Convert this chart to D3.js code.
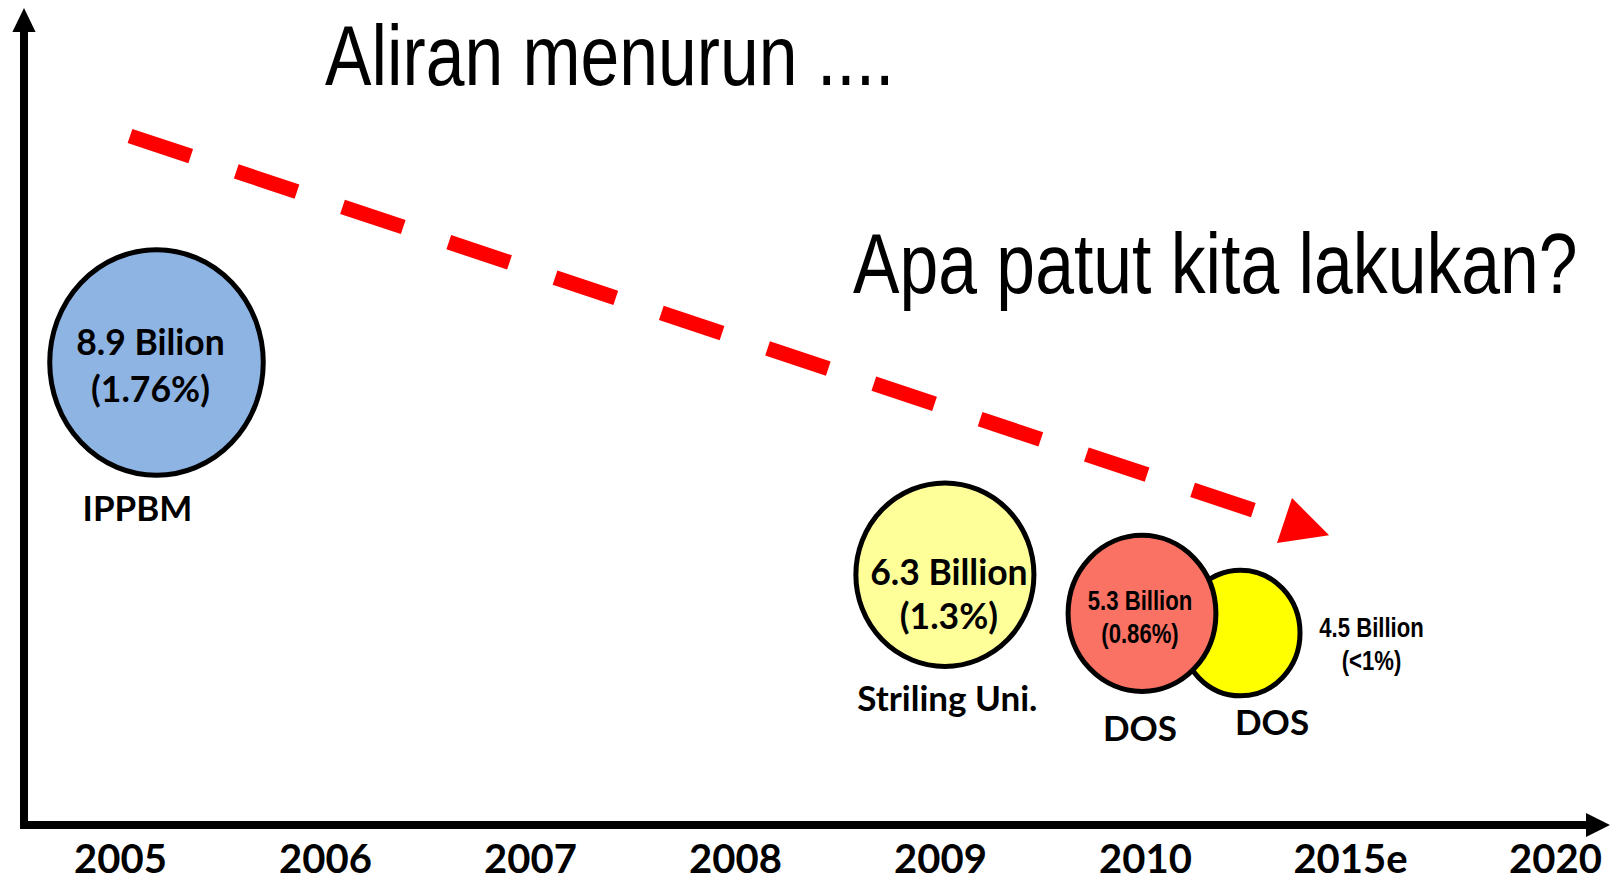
<!DOCTYPE html>
<html>
<head>
<meta charset="utf-8">
<script src="https://cdn.jsdelivr.net/npm/d3@7"></script>
<style>
  html, body { margin: 0; padding: 0; background: #fff; }
  svg { display: block; }
</style>
</head>
<body>
<div id="chart"></div>
<script>
// Timeline categories along the bottom axis
const years = ["2005", "2006", "2007", "2008", "2009", "2010", "2015e", "2020"];

// Funding bubbles
const bubbleNames = ["IPPBM", "Striling Uni.", "DOS", "DOS"];
const bubbleYears = [2005, 2009, 2010, 2010.5];
const amounts = [8.9, 6.3, 5.3, 4.5];            // billion
const amountLabels = ["8.9 Bilion", "6.3 Billion", "5.3 Billion", "4.5 Billion"];
const shareLabels = ["(1.76%)", "(1.3%)", "(0.86%)", "(<1%)"];

const titleText = "Aliran menurun ....";
const questionText = "Apa patut kita lakukan?";

const width = 1618;
const height = 884;

// axis frame
const frame = { left: 24, top: 8, right: 1610, bottom: 825 };

const svg = d3.select("#chart")
  .append("svg")
  .attr("width", width)
  .attr("height", height)
  .attr("viewBox", [0, 0, width, height]);

svg.append("rect")
  .attr("width", width)
  .attr("height", height)
  .attr("fill", "#fff");

// Scales
const xAxisScale = d3.scalePoint()
  .domain(years)
  .range([120, 1555]);

const timeScale = d3.scaleLinear()
  .domain([2005, 2010])
  .range([156.5, 1142]);

// steep power scale so the drop in funding reads as a slope
const yScale = d3.scalePow()
  .exponent(3.7)
  .domain([4.5, 8.9])
  .range([633, 362.5]);

const rScale = d3.scalePow()
  .exponent(-1)
  .domain([4.5, 8.9])
  .range([61, 109.5]);

const fillScale = d3.scaleOrdinal()
  .domain(d3.range(amounts.length))
  .range(["#8EB4E3", "#FFFF99", "#FA7264", "#FFFF00"]);

// text in a narrow face: squeeze horizontally around its anchor point
function narrowText(parent, x, y, txt, factor) {
  return parent.append("text")
    .attr("transform", `translate(${x},${y}) scale(${factor},1)`)
    .text(txt);
}

// Axes
svg.append("line")
  .attr("x1", frame.left).attr("x2", frame.left)
  .attr("y1", frame.bottom + 4).attr("y2", frame.top + 22)
  .attr("stroke", "#000")
  .attr("stroke-width", 8);

svg.append("path")
  .attr("d", `M${frame.left},${frame.top}L${frame.left - 11.6},${frame.top + 24}L${frame.left + 11.6},${frame.top + 24}Z`)
  .attr("fill", "#000");

svg.append("line")
  .attr("x1", frame.left - 4).attr("x2", frame.right - 22)
  .attr("y1", frame.bottom).attr("y2", frame.bottom)
  .attr("stroke", "#000")
  .attr("stroke-width", 8);

svg.append("path")
  .attr("d", `M${frame.right},${frame.bottom}L${frame.right - 24},${frame.bottom - 12}L${frame.right - 24},${frame.bottom + 12}Z`)
  .attr("fill", "#000");

const xAxis = svg.append("g")
  .attr("transform", `translate(0,${frame.bottom})`)
  .call(d3.axisBottom(xAxisScale).tickSize(0).tickPadding(0));

xAxis.select(".domain").remove();
xAxis.selectAll("text")
  .attr("y", 48)
  .attr("dy", 0)
  .attr("fill", "#000")
  .attr("font-family", "Lato, 'Open Sans', sans-serif")
  .attr("font-weight", "bold")
  .attr("font-size", 40);

// Titles
narrowText(svg, 325, 85, titleText, 0.82)
  .attr("font-family", "'Liberation Sans', Arial, sans-serif")
  .attr("font-size", 85)
  .attr("fill", "#000");

narrowText(svg, 853, 293, questionText, 0.82)
  .attr("font-family", "'Liberation Sans', Arial, sans-serif")
  .attr("font-size", 85)
  .attr("fill", "#000");

// Trend arrow (annotation)
const trend = { x1: 130, y1: 136, x2: 1284.5, y2: 520.5 };
const ang = Math.atan2(trend.y2 - trend.y1, trend.x2 - trend.x1);
const ux = Math.cos(ang), uy = Math.sin(ang);
const headLen = 47, headHalf = 23.7;

svg.append("line")
  .attr("x1", trend.x1).attr("y1", trend.y1)
  .attr("x2", trend.x2).attr("y2", trend.y2)
  .attr("stroke", "#FF0000")
  .attr("stroke-width", 15)
  .attr("stroke-dasharray", "64 48");

svg.append("path")
  .attr("d", `M${trend.x2 + headLen * ux},${trend.y2 + headLen * uy}` +
             `L${trend.x2 - headHalf * uy},${trend.y2 + headHalf * ux}` +
             `L${trend.x2 + headHalf * uy},${trend.y2 - headHalf * ux}Z`)
  .attr("fill", "#FF0000");

// Bubbles
const bubbles = amounts.map((v, i) => {
  const r = rScale(v);
  return {
    i,
    name: bubbleNames[i],
    cx: timeScale(bubbleYears[i]),
    cy: yScale(v),
    rx: r * (i === 1 ? 1.0 : 0.975),
    ry: r * 1.03,
    amount: amountLabels[i],
    share: shareLabels[i]
  };
});

// label tweaks: [value dx, value dy1, value dy2, name dx, name gap]
const labelNudge = [
  [-6, -7.5, 39, -19, 46],
  [4, 10, 54, 2.5, 45],
  [-2, -3.4, 30, -2, 50],
  [131, 4, 37, 31.5, 39]
];

// later bubbles sit behind earlier ones
const g = svg.append("g");
g.selectAll("ellipse")
  .data(bubbles.slice().reverse())
  .join("ellipse")
  .attr("cx", d => d.cx)
  .attr("cy", d => d.cy)
  .attr("rx", d => d.rx)
  .attr("ry", d => d.ry)
  .attr("fill", d => fillScale(d.i))
  .attr("stroke", "#000")
  .attr("stroke-width", 5);

bubbles.forEach(d => {
  const [vdx, vdy1, vdy2, ndx, ngap] = labelNudge[d.i];
  const narrow = d.rx < 80;
  const lines = [[d.amount, vdy1], [d.share, vdy2]];

  lines.forEach(([txt, dy]) => {
    let t;
    if (narrow) {
      t = narrowText(svg, d.cx + vdx, d.cy + dy, txt, 0.82)
        .attr("font-family", "'Liberation Sans', Arial, sans-serif")
        .attr("font-size", 27);
    } else {
      t = svg.append("text")
        .attr("x", d.cx + vdx)
        .attr("y", d.cy + dy)
        .attr("font-family", "Lato, 'Open Sans', sans-serif")
        .attr("font-size", 35.5)
        .text(txt);
    }
    t.attr("text-anchor", "middle")
      .attr("fill", "#000")
      .attr("font-weight", "bold");
  });

  svg.append("text")
    .attr("x", d.cx + ndx)
    .attr("y", d.cy + d.ry + ngap)
    .attr("text-anchor", "middle")
    .attr("fill", "#000")
    .attr("font-family", "Lato, 'Open Sans', sans-serif")
    .attr("font-weight", "bold")
    .attr("font-size", 35)
    .text(d.name);
});
</script>
</body>
</html>
